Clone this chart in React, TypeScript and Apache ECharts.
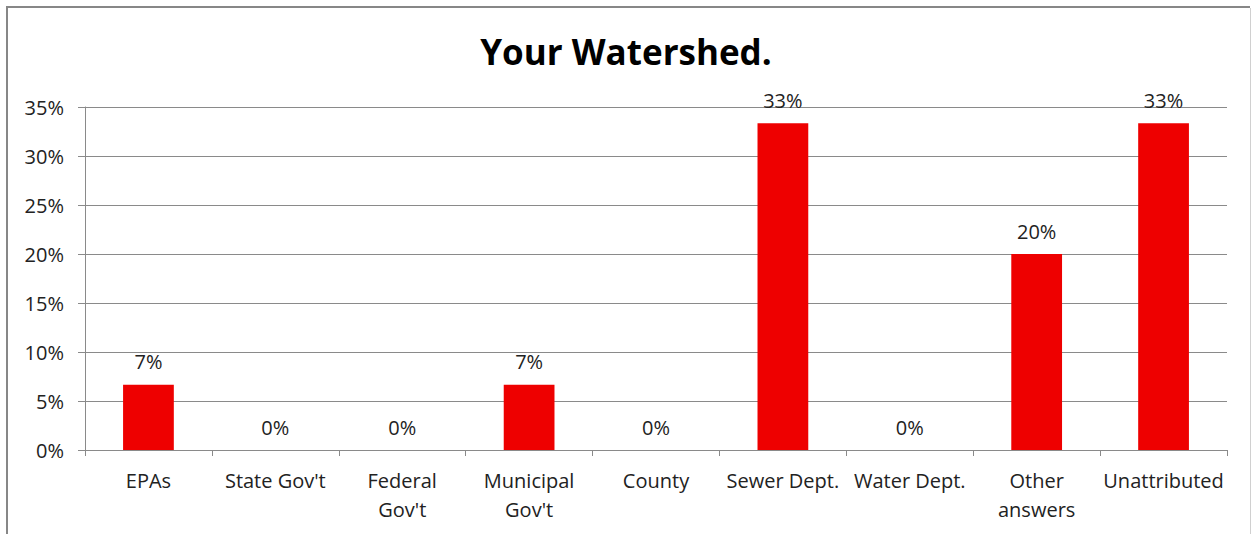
import React, { useEffect, useRef } from "react";
import * as echarts from "echarts";

const categories = [
  "EPAs",
  "State Gov't",
  "Federal\nGov't",
  "Municipal\nGov't",
  "County",
  "Sewer Dept.",
  "Water Dept.",
  "Other\nanswers",
  "Unattributed",
];
const values = [6.67, 0, 0, 6.67, 0, 33.33, 0, 20, 33.33];
const yTicks = { min: 0, max: 35, interval: 5 };
const title = "Your Watershed.";

const FONT = "'Open Sans', 'Noto Sans', sans-serif";

export default function App() {
  const ref = useRef<HTMLDivElement>(null);
  useEffect(() => {
    if (!ref.current) return;
    const chart = echarts.init(ref.current, undefined, { renderer: "svg" });
    chart.setOption({
      animation: false,
      backgroundColor: "#ffffff",
      title: {
        text: title,
        left: "center",
        top: 29,
        textStyle: { fontFamily: FONT, fontSize: 35, fontWeight: "bold", color: "#000" },
      },
      grid: { left: 85, right: 25, top: 107, bottom: 84, containLabel: false },
      xAxis: {
        type: "category",
        data: categories,
        axisLine: { show: true, lineStyle: { color: "#8a8a8a", width: 1 } },
        axisTick: { show: true, length: 6, lineStyle: { color: "#8a8a8a" } },
        axisLabel: {
          interval: 0,
          margin: 16,
          color: "#222",
          fontFamily: FONT,
          fontSize: 20,
          lineHeight: 29,
        },
      },
      yAxis: {
        type: "value",
        min: yTicks.min,
        max: yTicks.max,
        interval: yTicks.interval,
        axisLine: { show: true, lineStyle: { color: "#8a8a8a", width: 1 } },
        axisTick: { show: true, length: 7, lineStyle: { color: "#8a8a8a" } },
        splitLine: { show: true, lineStyle: { color: "#8a8a8a", width: 1 } },
        axisLabel: {
          formatter: "{value}%",
          margin: 21,
          color: "#222",
          fontFamily: FONT,
          fontSize: 20,
        },
      },
      series: [
        {
          type: "bar",
          data: values,
          barWidth: "40%",
          itemStyle: { color: "#EE0000" },
          label: {
            show: true,
            position: "top",
            distance: 13,
            formatter: (p: any) => Math.round(p.value) + "%",
            color: "#222",
            fontFamily: FONT,
            fontSize: 20,
          },
        },
      ],
      graphic: [
        { type: "line", shape: { x1: 7, y1: 6, x2: 7, y2: 534 }, style: { stroke: "#878787", lineWidth: 2 } },
        { type: "line", shape: { x1: 6, y1: 7, x2: 1250, y2: 7 }, style: { stroke: "#878787", lineWidth: 2 } },
        { type: "line", shape: { x1: 1250.5, y1: 8, x2: 1250.5, y2: 534 }, style: { stroke: "#d0d0d0", lineWidth: 1 } },
      ],
    });
    return () => chart.dispose();
  }, []);
  return (
    <div
      ref={ref}
      style={{ position: "absolute", left: 0, top: 0, width: 1252, height: 534 }}
    />
  );
}
